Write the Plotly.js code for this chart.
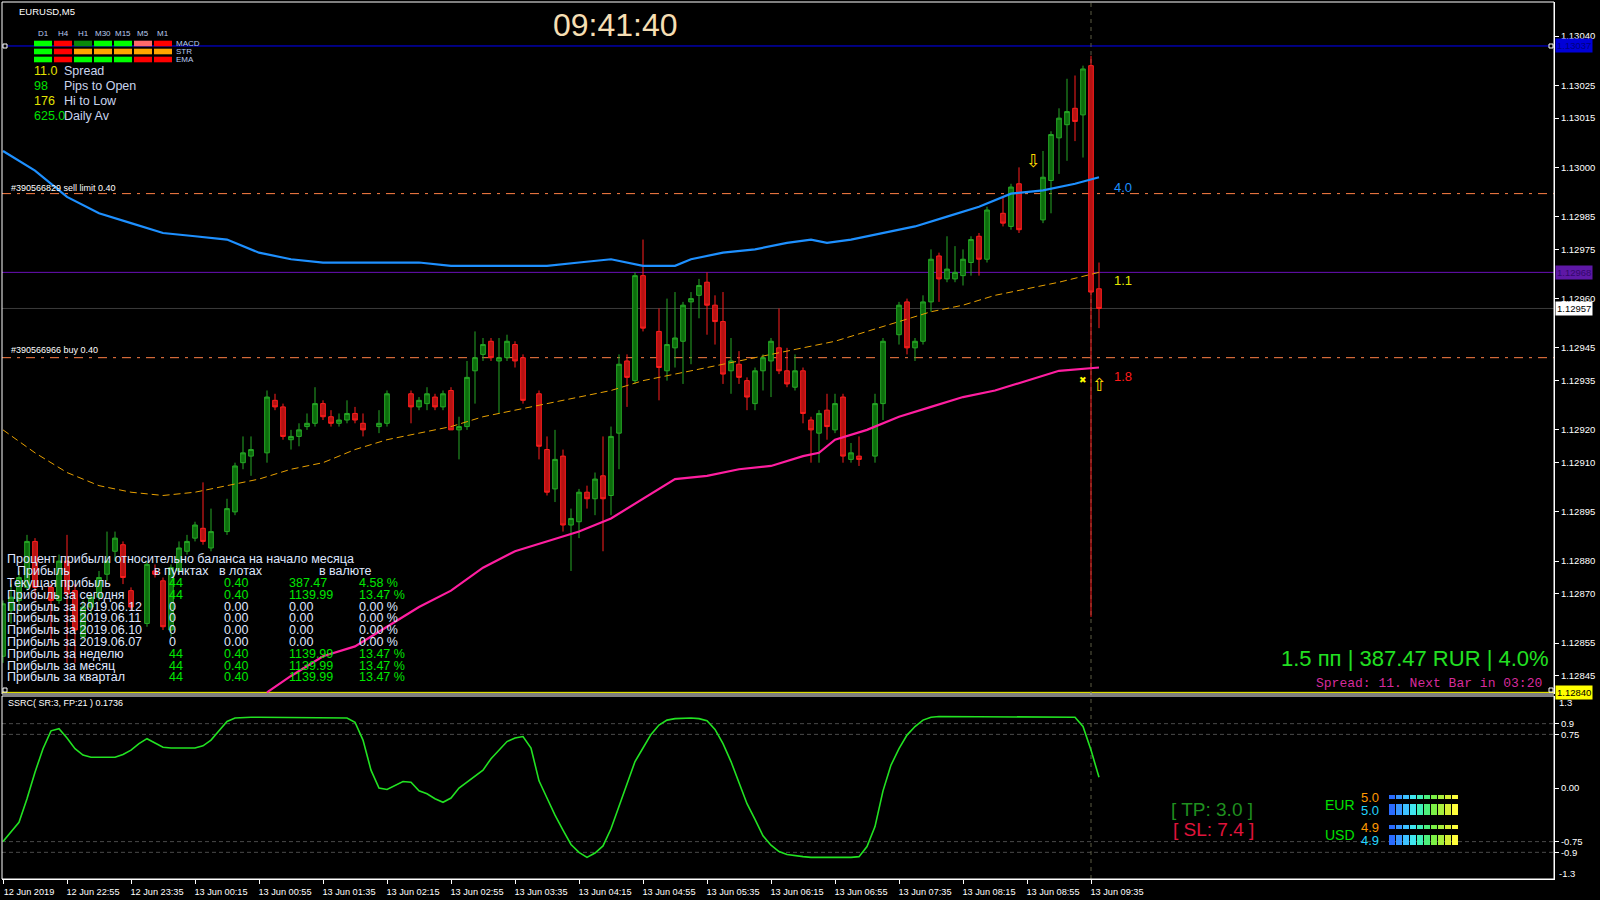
<!DOCTYPE html>
<html><head><meta charset="utf-8">
<script src="https://cdn.plot.ly/plotly-3.0.1.min.js"></script>
<style>html,body{margin:0;padding:0;background:#000;}#chart{width:1600px;height:900px;}</style>
</head><body><div id="chart"></div>
<script>
// ---------- DATA ----------
const symbol = 'EURUSD,M5';
const firstBar = {year:2019, month:6, day:12, hour:22, minute:15};
const barMinutes = 5;

const barOpen = [1.12851,1.12865,1.12868,1.12872,1.12886,null,1.12872,1.12868,1.12880,1.12871,
1.12857,1.12866,1.12869,1.12876,1.12883,1.12885,1.12871,null,1.12861,1.12877,
1.12874,1.12859,1.12877,1.12883,1.12887,1.12890,1.12884,null,1.12889,1.12895,
1.12910,1.12912,null,1.12913,1.12929,1.12927,1.12917,1.12918,1.12921,1.12922,
1.12928,1.12924,1.12922,1.12923,1.12925,1.12922,null,1.12921,1.12922,null,
null,1.12931,1.12927,1.12928,1.12930,1.12927,1.12932,1.12920,1.12921,1.12938,
1.12943,1.12947,1.12941,1.12942,1.12946,1.12942,null,1.12931,1.12914,1.12902,
1.12912,1.12891,1.12892,1.12901,1.12899,1.12906,1.12900,1.12919,1.12941,1.12935,
1.12967,null,1.12950,1.12938,1.12945,1.12947,1.12959,1.12961,1.12965,1.12958,
1.12953,1.12938,1.12940,1.12935,1.12928,1.12938,1.12941,1.12945,1.12938,1.12933,
1.12938,1.12923,1.12919,1.12926,1.12920,1.12930,1.12911,1.12912,null,1.12912,
1.12928,null,1.12949,1.12959,1.12945,1.12947,1.12959,1.12973,1.12966,1.12966,
1.12967,1.12971,1.12979,1.12972,null,1.12986,1.12982,1.12995,null,null,
1.12984,1.12996,1.13009,1.13013,1.13018,1.13016,1.13031,1.12963];

const barHigh = [1.12868,1.12873,1.12877,1.12888,1.12887,null,1.12873,1.12882,1.12888,1.12873,
1.12868,1.12870,1.12877,1.12889,1.12889,1.12886,1.12872,null,1.12880,1.12879,
1.12875,1.12879,1.12886,1.12888,1.12892,1.12904,1.12896,null,1.12899,1.12910,
1.12918,1.12918,null,1.12932,1.12931,1.12928,1.12920,1.12922,1.12925,1.12933,
1.12929,1.12926,1.12925,1.12929,1.12927,1.12925,null,1.12926,1.12932,null,
null,1.12932,1.12930,1.12933,1.12931,1.12932,1.12933,1.12924,1.12941,1.12950,
1.12948,1.12948,1.12948,1.12949,1.12947,1.12943,null,1.12932,1.12918,1.12920,
1.12914,1.12896,1.12902,1.12903,1.12907,1.12918,1.12921,1.12943,1.12943,1.12968,
1.12978,null,1.12957,1.12960,1.12962,1.12959,1.12962,1.12966,1.12968,1.12961,
1.12962,1.12948,1.12944,1.12936,1.12939,1.12943,1.12948,1.12957,1.12945,1.12943,
1.12939,1.12924,1.12926,1.12931,1.12931,1.12931,1.12916,1.12918,null,1.12931,
1.12948,null,1.12959,1.12960,1.12948,1.12961,1.12975,1.12974,1.12979,1.12976,
1.12975,1.12979,1.12980,1.12988,null,1.12991,1.12995,1.13000,null,null,
1.13005,1.13011,1.13018,1.13027,1.13028,1.13031,1.13034,1.12971];

const barLow = [1.12849,1.12861,1.12865,1.12871,1.12868,null,1.12855,1.12867,1.12849,1.12849,
1.12856,1.12864,1.12868,1.12874,1.12880,1.12873,1.12865,null,1.12860,1.12875,
1.12859,1.12857,1.12876,1.12882,1.12886,1.12885,1.12883,null,1.12888,1.12894,
1.12908,1.12906,null,1.12910,1.12926,1.12917,1.12914,1.12915,1.12920,1.12921,
1.12923,1.12921,1.12921,1.12922,1.12922,1.12918,null,1.12919,1.12921,null,
null,1.12922,1.12926,1.12926,1.12926,1.12926,1.12920,1.12911,1.12920,1.12928,
1.12941,1.12941,1.12925,1.12941,1.12939,1.12928,null,1.12911,1.12900,1.12898,
1.12889,1.12877,1.12887,1.12896,1.12894,1.12883,1.12894,1.12908,1.12927,1.12934,
1.12950,null,1.12929,1.12935,1.12939,1.12934,1.12940,1.12954,1.12949,1.12946,
1.12934,1.12931,1.12934,1.12926,1.12926,1.12932,1.12930,1.12937,1.12933,1.12932,
1.12922,1.12910,1.12910,1.12917,1.12919,1.12910,1.12910,1.12909,null,1.12910,
1.12923,null,1.12946,1.12943,1.12941,1.12946,1.12956,1.12959,1.12965,1.12965,
1.12964,1.12967,1.12967,1.12971,null,1.12982,1.12981,1.12980,null,null,
1.12983,1.12986,1.12998,1.13002,1.13008,1.13003,1.12863,1.12951];

const barClose = [1.12867,1.12869,1.12875,1.12886,1.12872,null,1.12868,1.12880,1.12870,1.12859,
1.12866,1.12869,1.12875,1.12880,1.12887,1.12875,1.12866,null,1.12879,1.12876,
1.12860,1.12878,1.12884,1.12886,1.12891,1.12886,1.12889,null,1.12896,1.12909,
1.12913,1.12914,null,1.12930,1.12927,1.12918,1.12918,1.12920,1.12922,1.12928,
1.12924,1.12922,1.12923,1.12925,1.12923,1.12920,null,1.12922,1.12931,null,
null,1.12927,1.12929,1.12931,1.12927,1.12931,1.12920,1.12921,1.12936,1.12942,
1.12946,1.12942,1.12942,1.12947,1.12941,1.12929,null,1.12915,1.12901,1.12911,
1.12891,1.12893,1.12901,1.12899,1.12905,1.12899,1.12918,1.12940,1.12936,1.12967,
1.12951,null,1.12939,1.12946,1.12948,1.12958,1.12960,1.12964,1.12958,1.12953,
1.12937,1.12941,1.12936,1.12930,1.12938,1.12942,1.12947,1.12938,1.12934,1.12938,
1.12925,1.12920,1.12925,1.12921,1.12928,1.12912,1.12913,1.12911,null,1.12928,
1.12947,null,1.12958,1.12945,1.12947,1.12959,1.12972,1.12966,1.12969,1.12968,
1.12972,1.12978,1.12972,1.12987,null,1.12983,1.12994,1.12981,null,null,
1.12997,1.13010,1.13015,1.13017,1.13014,1.13030,1.12962,1.12957];

// moving averages (bar index, value)
const maBlueBar = [0,4,8,12,16,20,24,28,32,36,40,44,48,52,56,60,64,68,72,76,80,84,86,88,90,94,98,101,103,106,110,114,118,122,126,130,134,137];
const maBlueVal = [1.13005,1.12999,1.12991,1.12986,1.12983,1.12980,1.12979,1.12978,1.12974,1.12972,
1.12971,1.12971,1.12971,1.12971,1.12970,1.12970,1.12970,1.12970,1.12971,1.12972,
1.12970,1.12970,1.12972,1.12973,1.12974,1.12975,1.12977,1.12978,1.12977,1.12978,
1.12980,1.12982,1.12985,1.12988,1.12992,1.12993,1.12995,1.12997];
const maGoldBar = [0,4,8,12,16,20,24,28,32,36,40,44,48,52,56,60,64,68,72,76,80,84,88,92,96,100,104,108,112,116,120,124,128,132,137];
const maGoldVal = [1.12920,1.12913,1.12907,1.12903,1.12901,1.12900,1.12901,1.12903,1.12905,1.12908,
1.12910,1.12914,1.12917,1.12919,1.12921,1.12924,1.12926,1.12928,1.12930,1.12932,
1.12935,1.12937,1.12939,1.12941,1.12943,1.12945,1.12947,1.12950,1.12953,1.12956,
1.12958,1.12961,1.12963,1.12965,1.12968];
const maPinkBar = [33,36,40,44,48,52,56,60,64,68,72,76,80,84,88,92,96,100,102,104,108,112,116,120,124,128,132,137];
const maPinkVal = [1.12840,1.12845,1.12851,1.12854,1.12860,1.12866,1.12871,1.12878,1.12883,1.12886,
1.12889,1.12893,1.12899,1.12905,1.12906,1.12908,1.12909,1.12912,1.12913,1.12917,
1.12920,1.12924,1.12927,1.12930,1.12932,1.12935,1.12938,1.12939];

// SSRC oscillator, one value per bar
const ssrc = [-0.75,-0.62,-0.48,-0.15,0.22,0.55,0.80,0.83,0.70,0.55,
0.46,0.43,0.43,0.43,0.43,0.47,0.53,0.62,0.69,0.63,
0.57,0.56,0.56,0.56,0.56,0.59,0.67,0.80,0.93,0.98,
0.99,0.99,0.99,0.99,0.99,0.99,0.99,0.99,0.99,0.99,
0.99,0.99,0.99,0.98,0.92,0.67,0.25,0.00,-0.02,0.03,
0.09,0.08,-0.04,-0.08,-0.15,-0.20,-0.14,0.00,0.08,0.16,
0.25,0.41,0.53,0.65,0.70,0.72,0.56,0.10,-0.14,-0.38,
-0.59,-0.79,-0.90,-0.97,-0.91,-0.81,-0.57,-0.25,0.06,0.37,
0.56,0.75,0.88,0.95,0.97,0.98,0.98,0.97,0.94,0.82,
0.62,0.37,0.06,-0.22,-0.44,-0.67,-0.80,-0.89,-0.93,-0.95,
-0.96,-0.97,-0.97,-0.98,-0.98,-0.98,-0.97,-0.96,-0.82,-0.54,
-0.04,0.32,0.55,0.74,0.86,0.95,0.99,1.00,1.00,1.00,
1.00,1.00,1.00,1.00,1.00,1.00,1.00,1.00,1.00,1.00,
1.00,1.00,1.00,1.00,0.99,0.86,0.53,0.15];
const ssrcLevels = [0.9, 0.75, -0.75, -0.9];
const ssrcTicks = [0.9, 0.75, 0, -0.75, -0.9];
const ssrcTickText = ['0.9', '0.75', '0.00', '-0.75', '-0.9'];
const ssrcLabel = 'SSRC( SR:3, FP:21 ) 0.1736';

const priceTicks = [1.13040,1.13025,1.13015,1.13000,1.12985,1.12975,1.12960,1.12945,1.12935,1.12920,1.12910,1.12895,1.12880,1.12870,1.12855,1.12845];
const timeTickBars = [0,8,16,24,32,40,48,56,64,72,80,88,96,104,112,120,128,136];
const timeTickText = ['12 Jun 2019','12 Jun 22:55','12 Jun 23:35','13 Jun 00:15','13 Jun 00:55','13 Jun 01:35','13 Jun 02:15','13 Jun 02:55','13 Jun 03:35','13 Jun 04:15','13 Jun 04:55','13 Jun 05:35','13 Jun 06:15','13 Jun 06:55','13 Jun 07:35','13 Jun 08:15','13 Jun 08:55','13 Jun 09:35'];

const priceLines = [1.13037, 1.12968, 1.12957, 1.12840];
const orderPrices = [1.12992, 1.12942];
const orderTexts = ['#390566829 sell limit 0.40', '#390566966 buy 0.40'];
const currentBar = 136;

const tfNames = ['D1','H4','H1','M30','M15','M5','M1'];
const sigRows = ['MACD','STR','EMA'];
const sigColors = [
  ['#00ff00','#ff0000','#0a8a0a','#00ff00','#00ff00','#ff6a6a','#ff0000'],
  ['#00ff00','#ff0000','#ffa500','#ffa500','#ffa500','#ffa500','#ffa500'],
  ['#00ff00','#ff0000','#00ff00','#00ff00','#00ff00','#ff0000','#ff0000']];
const infoNums = ['11.0','98','176','625.0'];
const infoNames = ['Spread','Pips to Open','Hi to Low','Daily Av'];

const profitTitle = 'Процент прибыли относительно баланса на начало месяца';
const profitHeads = ['Прибыль','в пунктах','в лотах','в валюте'];
const profitNames = ['Текущая прибыль','Прибыль за сегодня','Прибыль за 2019.06.12','Прибыль за 2019.06.11','Прибыль за 2019.06.10','Прибыль за 2019.06.07','Прибыль за неделю','Прибыль за месяц','Прибыль за квартал'];
const profitPoints = ['44','44','0','0','0','0','44','44','44'];
const profitLots = ['0.40','0.40','0.00','0.00','0.00','0.00','0.40','0.40','0.40'];
const profitMoney = ['387.47','1139.99','0.00','0.00','0.00','0.00','1139.99','1139.99','1139.99'];
const profitPct = ['4.58 %','13.47 %','0.00 %','0.00 %','0.00 %','0.00 %','13.47 %','13.47 %','13.47 %'];

const strengthCur = ['EUR','USD'];
const strengthVals = [['5.0','5.0'],['4.9','4.9']];

// ---------- HELPERS ----------
function pad(n){return (n<10?'0':'')+n;}
function timeAt(bar){
  const base = ((firstBar.hour*60)+firstBar.minute)*60;
  let s = base + bar*barMinutes*60;
  const d = firstBar.day + Math.floor(s/86400);
  s = s - Math.floor(s/86400)*86400;
  const hh = Math.floor(s/3600), mm = Math.floor((s%3600)/60), ss = s%60;
  return firstBar.year+'-'+pad(firstBar.month)+'-'+pad(d)+' '+pad(hh)+':'+pad(mm)+':'+(ss<10?'0':'')+ss.toFixed(1);
}
const barTimes = barOpen.map((_,i)=>timeAt(i));

const L=2, R=1554, T=2, B=879;
const fx = x => (x-L)/(R-L);
const fy = y => (B-y)/(B-T);
const SANS = '"Liberation Sans", Arial, sans-serif';
const MONO = '"Liberation Mono", "DejaVu Sans Mono", monospace';
function note(x,y,text,size,color,anchor,family){
  return {xref:'paper',yref:'paper',x:fx(x),y:fy(y),text:text,showarrow:false,
    xanchor:anchor||'left',yanchor:'middle',borderpad:0,
    font:{family:family||SANS,size:size,color:color}};
}

// ---------- TRACES ----------
const traces = [
  {type:'candlestick', x:barTimes, open:barOpen, high:barHigh, low:barLow, close:barClose,
   xaxis:'x', yaxis:'y', whiskerwidth:0, hoverinfo:'skip',
   increasing:{line:{color:'#27a827',width:1}, fillcolor:'#0c6c0c'},
   decreasing:{line:{color:'#ff1e1e',width:1}, fillcolor:'#b51212'}},
  {type:'scatter', mode:'lines', x:maGoldBar.map(timeAt), y:maGoldVal, xaxis:'x', yaxis:'y',
   line:{color:'#e8a000', width:1, dash:'7px,4px'}, hoverinfo:'skip'},
  {type:'scatter', mode:'lines', x:maPinkBar.map(timeAt), y:maPinkVal, xaxis:'x', yaxis:'y',
   line:{color:'#ff1ea0', width:2.2}, hoverinfo:'skip'},
  {type:'scatter', mode:'lines', x:maBlueBar.map(timeAt), y:maBlueVal, xaxis:'x', yaxis:'y',
   line:{color:'#1e90ff', width:2.2}, hoverinfo:'skip'},
  {type:'scatter', mode:'lines', x:barTimes, y:ssrc, xaxis:'x', yaxis:'y2',
   line:{color:'#22e222', width:1.6}, hoverinfo:'skip'}
];

// ---------- SHAPES ----------
const shapes = [];
const lineColors = ['#0000ff','#6a10b8','#3c3c3c','#ffff00'];
priceLines.forEach((p,i)=>shapes.push({type:'line',xref:'paper',x0:0,x1:1,yref:'y',y0:p,y1:p,layer:'below',line:{color:lineColors[i],width:1}}));
orderPrices.forEach(p=>shapes.push({type:'line',xref:'paper',x0:0,x1:1,yref:'y',y0:p,y1:p,layer:'below',line:{color:'#ff7f45',width:1,dash:'9px,6px,3px,6px'}}));
ssrcLevels.forEach(v=>shapes.push({type:'line',xref:'paper',x0:0,x1:1,yref:'y2',y0:v,y1:v,layer:'below',line:{color:'#4a4a4a',width:1,dash:'4px,3px'}}));
shapes.push({type:'line',xref:'x',x0:timeAt(currentBar),x1:timeAt(currentBar),yref:'paper',y0:0,y1:1,layer:'below',line:{color:'#5c5c44',width:1,dash:'4px,4px'}});
// panel frames
shapes.push({type:'rect',xref:'paper',yref:'paper',x0:0,x1:1,y0:fy(694),y1:1,line:{color:'#ffffff',width:1}});
shapes.push({type:'rect',xref:'paper',yref:'paper',x0:0,x1:1,y0:0,y1:fy(696),line:{color:'#ffffff',width:1}});
// line end markers
[[5,46],[1551,46],[5,690],[1551,690]].forEach(p=>shapes.push({type:'rect',xref:'paper',yref:'paper',x0:fx(p[0]-2),x1:fx(p[0]+2),y0:fy(p[1]+2),y1:fy(p[1]-2),fillcolor:'#000',line:{color:'#ffffff',width:1}}));
// signal grid
sigColors.forEach((row,r)=>row.forEach((c,k)=>{
  const x0 = 34 + 20*k, yc = 43.5 + 8*r;
  shapes.push({type:'rect',xref:'paper',yref:'paper',x0:fx(x0),x1:fx(x0+18),y0:fy(yc+2.8),y1:fy(yc-2.8),fillcolor:c,line:{width:0}});
}));
// currency strength meter
const meterColors = ['#2a6cff','#3896ff','#3ec2ff','#40e6f0','#40f0b8','#4cf07c','#7cf046','#a8f03c','#d6f034','#ffff3a'];
const meterRows = [[797,4],[809.5,11],[827,4],[840,10]];
meterRows.forEach(rw=>meterColors.forEach((c,k)=>{
  const x0 = 1389 + 7*k;
  shapes.push({type:'rect',xref:'paper',yref:'paper',x0:fx(x0),x1:fx(x0+6),y0:fy(rw[0]+rw[1]/2),y1:fy(rw[0]-rw[1]/2),fillcolor:c,line:{width:0}});
}));

// ---------- ANNOTATIONS ----------
const ann = [];
const LIGHT = '#dfe6ff';
ann.push(note(18,11,symbol,9.5,'#ffffff'));
ann.push(note(615,25,'09:41:40',32,'#f5deb3','center'));
tfNames.forEach((t,k)=>ann.push(note(43+20*k,33,t,8,'#b9cbef','center')));
sigRows.forEach((t,r)=>ann.push(note(175,43.5+8*r,t,8,'#b9cbef')));
const infoColors = ['#e3e300','#00e000','#e3e300','#00e000'];
infoNums.forEach((t,i)=>{
  ann.push(note(33,71+15*i,t,12.5,infoColors[i]));
  ann.push(note(63,71+15*i,infoNames[i],12.5,'#c9d4ee'));
});
orderTexts.forEach((t,i)=>ann.push(note(10,[188,350][i],t,9,'#ffffff')));
// profit table
ann.push(note(6,559,profitTitle,12.5,LIGHT));
[16,153,218,318].forEach((x,i)=>ann.push(note(x,571,profitHeads[i],12.5,LIGHT)));
profitNames.forEach((t,i)=>{
  const y = 583 + 11.8*i;
  const col = parseFloat(profitMoney[i])>0 ? '#00e600' : LIGHT;
  ann.push(note(6,y,t,12.5,LIGHT));
  ann.push(note(168,y,profitPoints[i],12.5,col));
  ann.push(note(223,y,profitLots[i],12.5,col));
  ann.push(note(288,y,profitMoney[i],12.5,col));
  ann.push(note(358,y,profitPct[i],12.5,col));
});
// right side labels
ann.push(note(1113,187,'4.0',13,'#1e90ff'));
ann.push(note(1113,280,'1.1',13,'#e6e600'));
ann.push(note(1113,376,'1.8',13,'#ff1a1a'));
ann.push(note(1033,160,'⇩',18,'#ffd700','center','"DejaVu Sans", sans-serif'));
ann.push(note(1099,384,'⇧',18,'#ffd700','center','"DejaVu Sans", sans-serif'));
ann.push(note(1083,380,'✖',9,'#ffff00','center','"DejaVu Sans", sans-serif'));
ann.push(note(1550,658,'1.5 пп | 387.47 RUR | 4.0%',22,'#22e022','right'));
ann.push(note(1543,683,'Spread: 11. Next Bar in 03:20',13,'#d62b9c','right',MONO));
ann.push(note(7,703,ssrcLabel,9,'#ffffff'));
ann.push(note(1212,809,'[ TP: 3.0 ]',19,'#1f8f1f','center'));
ann.push(note(1213,829,'[ SL: 7.4 ]',19,'#e0143c','center'));
strengthCur.forEach((c,i)=>{
  const y0 = [797,827][i];
  ann.push(note(1340,y0+8,c,14,'#00e000','center'));
  ann.push(note(1360,y0,strengthVals[i][0],13,'#ff9900'));
  ann.push(note(1360,y0+13,strengthVals[i][1],13,'#22d4ff'));
});
// price label boxes on the axis
const boxBg = ['#0000d8','#5e18a6','#ffffff','#ffff00'];
const boxFg = ['#000080','#32086a','#000000','#000000'];
priceLines.forEach((p,i)=>ann.push({xref:'paper',x:1,xanchor:'left',xshift:1,yref:'y',y:p,yanchor:'middle',
  text:p.toFixed(5),showarrow:false,bgcolor:boxBg[i],borderpad:1,
  font:{family:SANS,size:9.5,color:boxFg[i]}}));
ann.push(note(1558,702,'1.3',9.5,'#ffffff','left'));
ann.push(note(1558,873,'-1.3',9.5,'#ffffff','left'));

// ---------- LAYOUT ----------
const axisFont = {family:SANS,size:9.5,color:'#ffffff'};
const layout = {
  width:1600, height:900,
  margin:{l:L,r:1600-R,t:T,b:900-B,pad:0},
  paper_bgcolor:'#000000', plot_bgcolor:'#000000',
  showlegend:false, boxgap:0.42, boxgroupgap:0,
  xaxis:{type:'date', anchor:'y2', range:[timeAt(-0.125), timeAt(193.875)],
    rangeslider:{visible:false}, showgrid:false, zeroline:false,
    showline:true, linecolor:'#ffffff', linewidth:1, mirror:false,
    ticks:'outside', ticklen:4, tickcolor:'#ffffff',
    tickmode:'array', tickvals:timeTickBars.map(timeAt), ticktext:timeTickText,
    ticklabelshift:26, tickfont:{family:SANS,size:9.2,color:'#ffffff'}},
  yaxis:{domain:[fy(694),1], range:[1.128395,1.130504], side:'right', anchor:'x',
    showgrid:false, zeroline:false, showline:true, linecolor:'#ffffff',
    ticks:'outside', ticklen:4, tickcolor:'#ffffff',
    tickmode:'array', tickvals:priceTicks, ticktext:priceTicks.map(v=>v.toFixed(5)), tickfont:axisFont},
  yaxis2:{domain:[0,fy(696)], range:[-1.273,1.287], side:'right', anchor:'x',
    showgrid:false, zeroline:false, showline:true, linecolor:'#ffffff',
    ticks:'outside', ticklen:4, tickcolor:'#ffffff',
    tickmode:'array', tickvals:ssrcTicks, ticktext:ssrcTickText, tickfont:axisFont},
  shapes:shapes, annotations:ann
};
Plotly.newPlot('chart', traces, layout, {displayModeBar:false, staticPlot:true});
</script></body></html>
